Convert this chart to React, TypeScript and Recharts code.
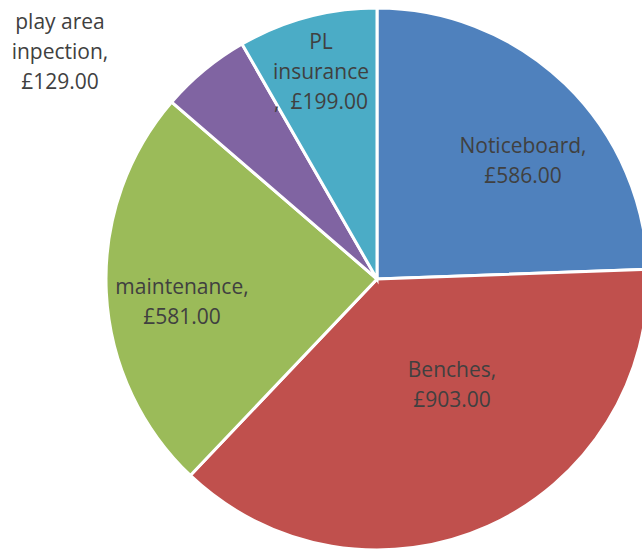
import React from "react";
import { PieChart, Pie, Cell } from "recharts";

const categories = ["Noticeboard", "Benches", "maintenance", "play area inpection", "PL insurance"];
const values = [586, 903, 581, 129, 199];
const labelLines = [
  ["Noticeboard,", "£586.00"],
  ["Benches,", "£903.00"],
  ["maintenance,", "£581.00"],
  ["play area", "inpection,", "£129.00"],
  ["PL", "insurance", ",  £199.00"],
];

const colors = ["#4F81BD", "#C0504D", "#9BBB59", "#8064A2", "#4BACC6"];
// label anchor offsets (first-line baseline) relative to pie centre
const labelOffsets = [
  [146, -126],
  [75, 98],
  [-195, 15],
  [-317, -250],
  [-56, -230],
];

const data = categories.map((name, i) => ({ name, value: values[i] }));

const W = 642;
const H = 549;
const CX = 377;
const CY = 279;
const R = 271;

const renderLabel = (props: any) => {
  const i = props.index;
  const cx = props.cx ?? CX;
  const cy = props.cy ?? CY;
  const [dx, dy] = labelOffsets[i];
  const x = cx + dx;
  const y = cy + dy;
  return (
    <text
      key={"lbl" + i}
      x={x}
      y={y}
      textAnchor="middle"
      fill="#404040"
      fontFamily="'Open Sans', sans-serif"
      fontSize={21}
      style={{ whiteSpace: "pre" }}
    >
      {labelLines[i].map((t, j) => (
        <tspan key={j} x={x} y={y + j * 30}>
          {t}
        </tspan>
      ))}
    </text>
  );
};

export default function App() {
  return (
    <div style={{ position: "absolute", left: 0, top: 0, width: W, height: H, background: "#fff" }}>
      <PieChart width={W} height={H} margin={{ top: 0, right: 0, bottom: 0, left: 0 }}>
        <Pie
          data={data}
          dataKey="value"
          nameKey="name"
          cx={CX}
          cy={CY}
          outerRadius={R}
          innerRadius={0}
          startAngle={90}
          endAngle={-270}
          stroke="#FFFFFF"
          strokeWidth={3}
          label={renderLabel}
          labelLine={false}
          isAnimationActive={false}
        >
          {data.map((d, i) => (
            <Cell key={d.name} fill={colors[i]} />
          ))}
        </Pie>
      </PieChart>
    </div>
  );
}
